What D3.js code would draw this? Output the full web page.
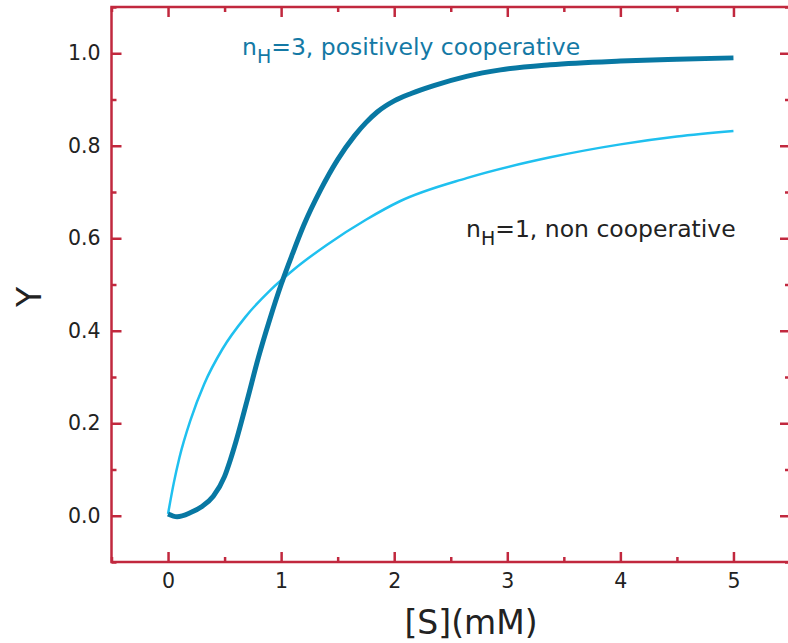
<!DOCTYPE html>
<html>
<head>
<meta charset="utf-8">
<script src="https://cdn.jsdelivr.net/npm/d3@7"></script>
<style>
  body { margin: 0; background: #fff; }
  svg text { font-family: 'DejaVu Sans', 'Bitstream Vera Sans', sans-serif; }
</style>
</head>
<body>
<div id="chart"></div>
<script>
const width = 788;
const height = 643;

// curve readings, substrate conc [S] (mM) vs fractional saturation Y
const coopS = [0, 0.08, 0.2, 0.3, 0.4, 0.5, 0.55, 0.6, 0.7, 0.8, 0.9, 1.0, 1.1, 1.2, 1.35, 1.5, 1.65, 1.75, 1.85, 2.0, 2.15, 2.35, 2.64, 2.94, 3.38, 4.0, 4.5, 5.0];
const coopY = [0.004, -0.002, 0.007, 0.02, 0.042, 0.085, 0.12, 0.16, 0.25, 0.343, 0.425, 0.5, 0.566, 0.628, 0.705, 0.77, 0.822, 0.85, 0.873, 0.897, 0.913, 0.93, 0.95, 0.964, 0.975, 0.983, 0.987, 0.99];

const nonS = [0, 0.05, 0.1, 0.2, 0.32, 0.48, 0.685, 0.905, 1.11, 1.4, 1.75, 2.05, 2.64, 3.38, 4.0, 4.5, 5.0];
const nonY = [0.004, 0.07, 0.125, 0.208, 0.285, 0.36, 0.43, 0.488, 0.532, 0.585, 0.64, 0.68, 0.73, 0.775, 0.803, 0.82, 0.832];

const xMajor = [0, 1, 2, 3, 4, 5];
const xMinor = [-0.5, 0.5, 1.5, 2.5, 3.5, 4.5, 5.5];
const yMajor = [0, 0.2, 0.4, 0.6, 0.8, 1.0];
const yMinor = [-0.1, 0.1, 0.3, 0.5, 0.7, 0.9, 1.1];

const red = "#c1283e";
const darkBlue = "#0878a3";
const lightBlue = "#1fc0ef";
const font = "'DejaVu Sans', 'Bitstream Vera Sans', sans-serif";

const x = d3.scaleLinear().domain([-0.5, 5.5]).range([111.5, 790]);
const y = d3.scaleLinear().domain([-0.1, 1.1]).range([562, 7]);

const svg = d3.select("#chart").append("svg")
  .attr("width", width)
  .attr("height", height)
  .style("display", "block");

// frame
svg.append("rect")
  .attr("x", x(-0.5)).attr("y", y(1.1))
  .attr("width", x(5.5) - x(-0.5)).attr("height", y(-0.1) - y(1.1))
  .attr("fill", "none").attr("stroke", red).attr("stroke-width", 2.5);

function styleAxis(g) {
  g.attr("font-family", font);
  g.select(".domain").remove();
  g.selectAll(".tick line").attr("stroke", red).attr("stroke-width", 2.5);
  g.selectAll(".tick text").attr("fill", "#222").attr("font-family", font).style("font-size", "20.5px");
}

// bottom
svg.append("g").attr("transform", `translate(0,${y(-0.1)})`)
  .call(d3.axisBottom(x).tickValues(xMajor).tickSize(-10).tickPadding(11).tickFormat(d3.format("d")))
  .call(styleAxis);
svg.append("g").attr("transform", `translate(0,${y(-0.1)})`)
  .call(d3.axisBottom(x).tickValues(xMinor).tickSize(-5).tickFormat(""))
  .call(styleAxis);
// top
svg.append("g").attr("transform", `translate(0,${y(1.1)})`)
  .call(d3.axisTop(x).tickValues(xMajor).tickSize(-10).tickFormat(""))
  .call(styleAxis);
svg.append("g").attr("transform", `translate(0,${y(1.1)})`)
  .call(d3.axisTop(x).tickValues(xMinor).tickSize(-5).tickFormat(""))
  .call(styleAxis);
// left
svg.append("g").attr("transform", `translate(${x(-0.5)},0)`)
  .call(d3.axisLeft(y).tickValues(yMajor).tickSize(-10).tickPadding(11).tickFormat(d3.format(".1f")))
  .call(styleAxis);
svg.append("g").attr("transform", `translate(${x(-0.5)},0)`)
  .call(d3.axisLeft(y).tickValues(yMinor).tickSize(-5).tickFormat(""))
  .call(styleAxis);
// right
svg.append("g").attr("transform", `translate(${x(5.5)},0)`)
  .call(d3.axisRight(y).tickValues(yMajor).tickSize(-10).tickFormat(""))
  .call(styleAxis);
svg.append("g").attr("transform", `translate(${x(5.5)},0)`)
  .call(d3.axisRight(y).tickValues(yMinor).tickSize(-5).tickFormat(""))
  .call(styleAxis);

const line = d3.line()
  .x(d => x(d[0]))
  .y(d => y(d[1]))
  .curve(d3.curveMonotoneX);

svg.append("path")
  .datum(d3.zip(nonS, nonY))
  .attr("d", line)
  .attr("fill", "none")
  .attr("stroke", lightBlue)
  .attr("stroke-width", 2.5);

svg.append("path")
  .datum(d3.zip(coopS, coopY))
  .attr("d", line)
  .attr("fill", "none")
  .attr("stroke", darkBlue)
  .attr("stroke-width", 5);

// curve labels
function curveLabel(tx, ty, color, rest) {
  const t = svg.append("text")
    .attr("x", tx).attr("y", ty)
    .attr("fill", color)
    .attr("font-family", font)
    .style("font-size", "23.5px");
  t.append("tspan").text("n");
  t.append("tspan").attr("dy", 8).style("font-size", "19px").text("H");
  t.append("tspan").attr("dy", -8).text(rest);
}
curveLabel(242, 55, "#1479a5", "=3, positively cooperative");
curveLabel(466, 237, "#222", "=1, non cooperative");

// axis titles
svg.append("text")
  .attr("x", 471).attr("y", 634)
  .attr("text-anchor", "middle")
  .attr("fill", "#222")
  .attr("font-family", font)
  .style("font-size", "33px")
  .text("[S](mM)");

svg.append("text")
  .attr("transform", "translate(41,297) rotate(-90)")
  .attr("text-anchor", "middle")
  .attr("fill", "#222")
  .attr("font-family", font)
  .style("font-size", "33px")
  .text("Y");
</script>
</body>
</html>
